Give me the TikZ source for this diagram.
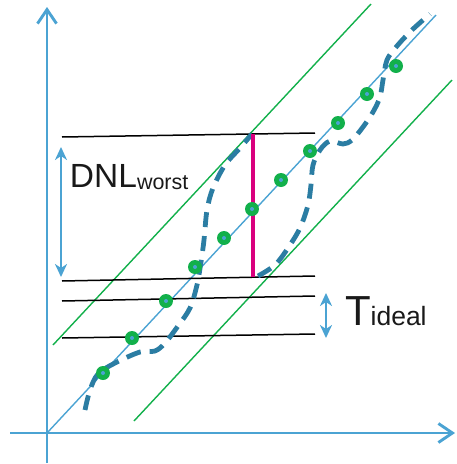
\documentclass[tikz,border=0pt]{standalone}
\usepackage{fontspec}
\setmainfont{Liberation Sans}
\usetikzlibrary{arrows.meta}
\definecolor{axisblue}{HTML}{4BA3D3}
\definecolor{bandgreen}{HTML}{12B04B}
\definecolor{curveblue}{HTML}{2B7DA3}
\definecolor{jumppink}{HTML}{D9007E}
\begin{document}
\begin{tikzpicture}[x=1pt, y=-1pt, line join=round,
    axis/.style={draw=axisblue, line width=2.9pt, -{Straight Barb[length=14pt,width=19pt]}},
    ideal/.style={draw=axisblue, line width=1.4pt},
    band/.style={draw=bandgreen, line width=1.4pt},
    level/.style={draw=black, line width=1.5pt},
    dot/.style={circle, fill=bandgreen, minimum size=14pt, inner sep=0pt,
      path picture={\fill[axisblue] (path picture bounding box.center) circle (2pt);}},
    wave/.style={draw=curveblue, line width=4.8pt, dash pattern=on 15pt off 9pt},
    jump/.style={draw=jumppink, line width=3.3pt},
    span/.style={draw=axisblue, line width=2.9pt,
      {Stealth[length=13pt,width=12pt,inset=4pt]}-{Stealth[length=13pt,width=12pt,inset=4pt]}},
    tag/.style={inner sep=0pt, outer sep=0pt, anchor=base west, text=black!90}]
  \useasboundingbox (0,0) rectangle (456,464);
  % axes
  \coordinate (o) at (47,433);
  \coordinate (xs) at (10,433);
  \coordinate (xe) at (455,433);
  \coordinate (ys) at (47,463);
  \coordinate (ye) at (47,7);
  \coordinate (ie) at (436,15);
  % tolerance band
  \coordinate (ua) at (53,345);
  \coordinate (ub) at (371,4);
  \coordinate (la) at (134,421);
  \coordinate (lb) at (452,80);
  \draw[band] (ua) -- (ub);
  \draw[band] (la) -- (lb);
  \draw[ideal] (o) -- (ie);
  % code levels
  \coordinate (l1a) at (62,137);
  \coordinate (l1b) at (315,133);
  \coordinate (l2a) at (62,281);
  \coordinate (l2b) at (315,276);
  \coordinate (l3a) at (62,301);
  \coordinate (l3b) at (315,296);
  \coordinate (l4a) at (62,338);
  \coordinate (l4b) at (315,334);
  \draw[level] (l1a) -- (l1b);
  \draw[level] (l2a) -- (l2b);
  \draw[level] (l3a) -- (l3b);
  \draw[level] (l4a) -- (l4b);
  \draw[axis] (xs) -- (xe);
  \draw[axis] (ys) -- (ye);
  % real transfer curve
  \draw[wave] plot[smooth, tension=0.55] coordinates {(85,410) (90,390) (98,374)
    (115,363) (140,352) (155,351) (165,343) (178,326) (190,308) (197,285)
    (201,262) (204,240) (207,210) (213,188) (225,165) (240,148) (252,134)};
  \draw[wave] plot[smooth, tension=0.55] coordinates {(258,276) (275,265)
    (288,248) (300,228) (308,205) (311,185) (313,165) (320,150) (330,141)
    (343,144) (352,140) (363,127) (373,112) (380,97) (383,80) (387,60)
    (397,46) (412,30) (430,14)};
  % worst step
  \coordinate (jt) at (253,134);
  \coordinate (jb) at (253,277);
  \draw[jump] (jt) -- (jb);
  % sample points
  \node[dot] (d0) at (103,373) {};
  \node[dot] (d1) at (132,338) {};
  \node[dot] (d2) at (166,301) {};
  \node[dot] (d3) at (195,267) {};
  \node[dot] (d4) at (224,238) {};
  \node[dot] (d5) at (252,209) {};
  \node[dot] (d6) at (281,180) {};
  \node[dot] (d7) at (310,151) {};
  \node[dot] (d8) at (338,123) {};
  \node[dot] (d9) at (367,94) {};
  \node[dot] (d10) at (396,66) {};
  % spans
  \coordinate (dnlt) at (61,147);
  \coordinate (dnlb) at (61,277);
  \coordinate (tidt) at (326,293);
  \coordinate (tidb) at (326,338);
  \draw[span] (dnlt) -- (dnlb);
  \draw[span] (tidt) -- (tidb);
  \node[tag] (dnl) at (70,187) {\fontsize{33.5}{36}\selectfont DNL\fontsize{21.5}{24}\selectfont\raisebox{-2pt}{worst}};
  \node[tag] (tid) at (345,325) {\fontsize{42}{44}\selectfont T\fontsize{26.5}{28}\selectfont ideal};
\end{tikzpicture}
\end{document}
